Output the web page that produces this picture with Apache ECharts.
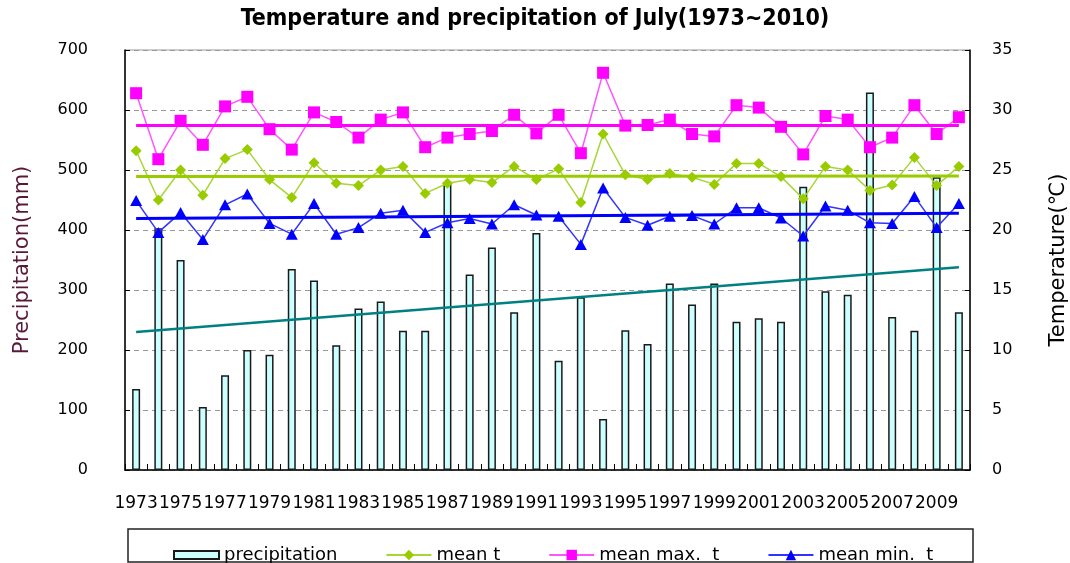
<!DOCTYPE html>
<html>
<head>
<meta charset="utf-8">
<script src="https://cdn.jsdelivr.net/npm/echarts@6/dist/echarts.min.js"></script>
<style>
html,body{margin:0;padding:0;background:#fff;}
#chart{width:1070px;height:563px;}
</style>
</head>
<body>
<div id="chart"></div>
<script>
var years = ['1973','1974','1975','1976','1977','1978','1979','1980','1981','1982','1983','1984','1985','1986','1987','1988','1989','1990','1991','1992','1993','1994','1995','1996','1997','1998','1999','2000','2001','2002','2003','2004','2005','2006','2007','2008','2009','2010'];
var precipitation = [135,403,350,105,158,200,192,335,316,208,269,281,232,232,478,326,371,263,395,182,288,85,233,210,311,276,311,247,253,247,472,298,292,629,255,232,488,263];
var meanT = [26.6,22.5,25.0,22.9,25.95,26.7,24.2,22.7,25.6,23.9,23.7,25.0,25.3,23.05,23.9,24.2,23.95,25.3,24.2,25.1,22.3,28.0,24.6,24.2,24.7,24.4,23.8,25.55,25.55,24.45,22.6,25.3,25.0,23.3,23.75,26.05,23.7,25.3];
var meanMax = [31.4,25.9,29.1,27.1,30.3,31.1,28.4,26.7,29.8,29.0,27.7,29.2,29.8,26.9,27.7,28.0,28.25,29.6,28.05,29.6,26.4,33.1,28.7,28.75,29.2,28.0,27.8,30.4,30.2,28.6,26.3,29.5,29.2,26.9,27.7,30.4,28.0,29.4];
var meanMin = [22.45,19.8,21.45,19.2,22.1,23.0,20.55,19.65,22.2,19.65,20.2,21.4,21.65,19.8,20.6,20.95,20.5,22.1,21.25,21.15,18.8,23.5,21.05,20.4,21.15,21.2,20.5,21.85,21.85,21.0,19.5,22.0,21.65,20.6,20.55,22.8,20.2,22.2];
// linear trend end values [first year, last year]
var trendPrecip = [230, 338];
var trendMeanT = [24.45, 24.5];
var trendMax = [28.75, 28.75];
var trendMin = [20.95, 21.4];
var leftTicks = {min:0, max:700, interval:100};
var rightTicks = {min:0, max:35, interval:5};

var FONT = 'DejaVu Sans';
function trend(vals, color, width){
  return {
    silent: true, symbol: ['none','none'], label:{show:false},
    lineStyle:{color:color, width:width, type:'solid'},
    emphasis:{disabled:true},
    data: [[{coord:[years[0], vals[0]]},{coord:[years[years.length-1], vals[1]]}]]
  };
}
var chart = echarts.init(document.getElementById('chart'));
chart.setOption({
  animation:false,
  backgroundColor:'#fff',
  title:{text:'Temperature and precipitation of July(1973~2010)', left:'center', top:3,
    textStyle:{fontFamily:'DejaVu Sans Condensed, Liberation Sans', fontWeight:'bold', fontSize:23, color:'#000'}},
  grid:{left:125, right:100, top:50, bottom:93, show:true, borderColor:'#999', borderWidth:1, outerBoundsMode:'none', containLabel:false},
  legend:{left:173, top:546, itemGap:48, itemWidth:45, itemHeight:13, padding:0,
    textStyle:{fontFamily:FONT, fontSize:18, color:'#000'},
    formatter:function(n){return n.replace('. t','.  t');},
    data:[{name:'precipitation', icon:'path://M0,0M0,13M0,2.5h45v8h-45z'},'mean t','mean max. t','mean min. t']},
  xAxis:{type:'category', data:years, boundaryGap:true,
    axisLine:{lineStyle:{color:'#000', width:1.5}},
    axisTick:{show:true, inside:true, interval:0, length:6, lineStyle:{color:'#000'}},
    axisLabel:{interval:1, showMinLabel:true, hideOverlap:false, fontFamily:FONT, fontSize:17, color:'#000', margin:25},
    splitLine:{show:false}},
  yAxis:[
    {type:'value', min:leftTicks.min, max:leftTicks.max, interval:leftTicks.interval,
     name:'Precipitation(mm)', nameLocation:'middle', nameGap:92,
     nameTextStyle:{fontFamily:FONT, fontSize:21, color:'#5a1838'},
     axisLine:{show:true, lineStyle:{color:'#000', width:1.5}},
     axisTick:{show:true, inside:true, length:5, lineStyle:{color:'#000'}},
     axisLabel:{fontFamily:FONT, fontSize:16, color:'#000', margin:37},
     splitLine:{show:true, lineStyle:{color:'#999', type:[5,4], width:1}}},
    {type:'value', min:rightTicks.min, max:rightTicks.max, interval:rightTicks.interval,
     name:'Temperature(℃)', nameLocation:'middle', nameGap:78,
     nameTextStyle:{fontFamily:FONT, fontSize:21, color:'#000'},
     axisLine:{show:true, lineStyle:{color:'#000', width:1.5}},
     axisTick:{show:true, inside:true, length:5, lineStyle:{color:'#000'}},
     axisLabel:{fontFamily:FONT, fontSize:16, color:'#000', margin:22},
     splitLine:{show:false}}
  ],
  series:[
    {name:'precipitation', type:'bar', yAxisIndex:0, data:precipitation, barWidth:8,
     itemStyle:{color:'#CCFFFF', borderColor:'#1a1a1a', borderWidth:1.5},
     markLine:trend(trendPrecip,'#008080',2.5)},
    {name:'mean t', type:'line', yAxisIndex:1, data:meanT, symbol:'diamond', symbolSize:11,
     itemStyle:{color:'#99CC00'}, lineStyle:{color:'#A6D633', width:1.5},
     markLine:trend(trendMeanT,'#99CC00',3)},
    {name:'mean max. t', type:'line', yAxisIndex:1, data:meanMax, symbol:'rect', symbolSize:12,
     itemStyle:{color:'#FF00FF'}, lineStyle:{color:'#FF55FF', width:1.5},
     markLine:trend(trendMax,'#FF00FF',3)},
    {name:'mean min. t', type:'line', yAxisIndex:1, data:meanMin, symbol:'triangle', symbolSize:[12,11],
     itemStyle:{color:'#0000FF'}, lineStyle:{color:'#3333FF', width:1.5},
     markLine:trend(trendMin,'#0000FF',3)}
  ],
  graphic:[{type:'rect', shape:{x:128, y:529, width:845, height:33}, silent:true,
    style:{fill:'none', stroke:'#222', lineWidth:1.5}, z:-1}]
});
</script>
</body>
</html>
